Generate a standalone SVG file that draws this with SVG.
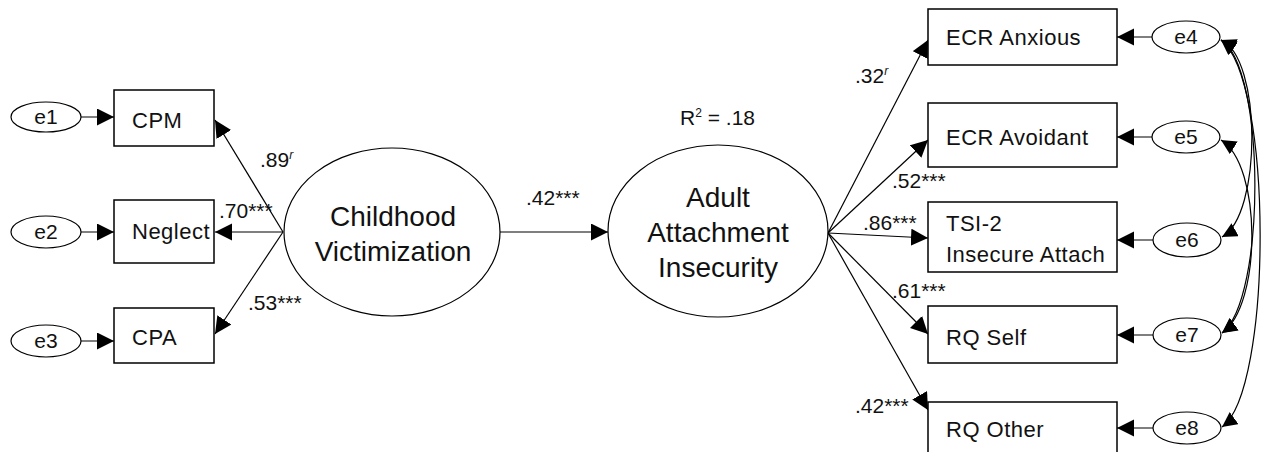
<svg xmlns="http://www.w3.org/2000/svg" width="1262" height="452" viewBox="0 0 1262 452">
<style>
.box{fill:#fff;stroke:#000;stroke-width:1.5}
.ell{fill:#fff;stroke:#000;stroke-width:1.2}
.lbl{font-family:"Liberation Sans",Arial,sans-serif;font-size:22px;fill:#111;letter-spacing:0.5px}
.big{font-family:"Liberation Sans",Arial,sans-serif;font-size:28px;fill:#111;text-anchor:middle}
.err{font-family:"Liberation Sans",Arial,sans-serif;font-size:21px;fill:#111;text-anchor:middle}
.coef{font-family:"Liberation Sans",Arial,sans-serif;font-size:21px;fill:#111}
.ln{fill:none;stroke:#000;stroke-width:1.2}
</style>
<defs>
<marker id="ah" markerUnits="userSpaceOnUse" markerWidth="20" markerHeight="20" refX="17" refY="8.5" orient="auto-start-reverse" viewBox="0 0 20 20">
<path d="M0,0 L17,8.5 L0,17 z" fill="#000"/>
</marker>
<marker id="ah2" markerUnits="userSpaceOnUse" markerWidth="18" markerHeight="18" refX="15" refY="7.5" orient="auto-start-reverse" viewBox="0 0 18 18">
<path d="M0,0 L15,7.5 L0,15 z" fill="#000"/>
</marker>
</defs>

<g id="connectors">
<line class="ln" x1="81" y1="117" x2="114" y2="117" marker-end="url(#ah)"/>
<line class="ln" x1="81" y1="232" x2="114" y2="232" marker-end="url(#ah)"/>
<line class="ln" x1="81" y1="341" x2="114" y2="341" marker-end="url(#ah)"/>
<line class="ln" x1="283" y1="232" x2="215" y2="120" marker-end="url(#ah)"/>
<line class="ln" x1="283" y1="232" x2="215" y2="232" marker-end="url(#ah)"/>
<line class="ln" x1="283" y1="232" x2="215" y2="334" marker-end="url(#ah)"/>
<line class="ln" x1="500" y1="232" x2="608" y2="232" marker-end="url(#ah)"/>
<line class="ln" x1="828" y1="233" x2="928" y2="40" marker-end="url(#ah)"/>
<line class="ln" x1="828" y1="233" x2="928" y2="140" marker-end="url(#ah)"/>
<line class="ln" x1="828" y1="233" x2="928" y2="238" marker-end="url(#ah)"/>
<line class="ln" x1="828" y1="233" x2="928" y2="334" marker-end="url(#ah)"/>
<line class="ln" x1="828" y1="233" x2="928" y2="410" marker-end="url(#ah)"/>
<line class="ln" x1="1152" y1="37" x2="1117" y2="37" marker-end="url(#ah)"/>
<line class="ln" x1="1152" y1="137" x2="1117" y2="137" marker-end="url(#ah)"/>
<line class="ln" x1="1153" y1="240" x2="1117" y2="240" marker-end="url(#ah)"/>
<line class="ln" x1="1153" y1="335" x2="1117" y2="335" marker-end="url(#ah)"/>
<line class="ln" x1="1153" y1="428" x2="1117" y2="428" marker-end="url(#ah)"/>
<path class="ln" d="M1221,40 C1262,58 1262,215 1222,237" marker-start="url(#ah2)" marker-end="url(#ah2)"/>
<path class="ln" d="M1221,40 C1266,68 1266,300 1222,333" marker-start="url(#ah2)" marker-end="url(#ah2)"/>
<path class="ln" d="M1221,40 C1273,80 1273,390 1222,427" marker-start="url(#ah2)" marker-end="url(#ah2)"/>
<path class="ln" d="M1221,140 C1262,165 1262,305 1222,333" marker-start="url(#ah2)" marker-end="url(#ah2)"/>
</g>

<g id="e1"><ellipse class="ell" cx="46" cy="117" rx="35" ry="15"/><text class="err" x="46" y="124">e1</text></g>
<g id="e2"><ellipse class="ell" cx="46" cy="232" rx="35" ry="16"/><text class="err" x="46" y="239">e2</text></g>
<g id="e3"><ellipse class="ell" cx="46" cy="341" rx="35" ry="16"/><text class="err" x="46" y="348">e3</text></g>

<g id="cpm"><rect class="box" x="114" y="90" width="100" height="56"/><text class="lbl" x="132" y="128">CPM</text></g>
<g id="neglect"><rect class="box" x="114" y="200" width="100" height="63"/><text class="lbl" x="132" y="239">Neglect</text></g>
<g id="cpa"><rect class="box" x="114" y="308" width="100" height="55"/><text class="lbl" x="132" y="345">CPA</text></g>

<g id="childhood"><ellipse class="ell" cx="392" cy="232" rx="108" ry="84"/>
<text class="big" x="393" y="226">Childhood</text><text class="big" x="393" y="261">Victimization</text></g>

<g id="adult"><ellipse class="ell" cx="718" cy="231" rx="110" ry="86"/>
<text class="big" x="718" y="207">Adult</text><text class="big" x="718" y="242">Attachment</text><text class="big" x="718" y="277">Insecurity</text></g>

<g id="ecr-anx"><rect class="box" x="928" y="9" width="189" height="56"/><text class="lbl" x="946" y="45">ECR Anxious</text></g>
<g id="ecr-avo"><rect class="box" x="928" y="103" width="189" height="64"/><text class="lbl" x="946" y="145">ECR Avoidant</text></g>
<g id="tsi"><rect class="box" x="928" y="202" width="189" height="70"/><text class="lbl" x="946" y="231">TSI-2</text><text class="lbl" x="946" y="262">Insecure Attach</text></g>
<g id="rq-self"><rect class="box" x="928" y="306" width="189" height="57"/><text class="lbl" x="946" y="345">RQ Self</text></g>
<g id="rq-other"><rect class="box" x="928" y="402" width="189" height="60"/><text class="lbl" x="946" y="437">RQ Other</text></g>

<g id="e4"><ellipse class="ell" cx="1186" cy="37" rx="34" ry="16"/><text class="err" x="1186" y="44">e4</text></g>
<g id="e5"><ellipse class="ell" cx="1186" cy="137" rx="34" ry="16"/><text class="err" x="1186" y="144">e5</text></g>
<g id="e6"><ellipse class="ell" cx="1187" cy="240" rx="34" ry="17"/><text class="err" x="1187" y="247">e6</text></g>
<g id="e7"><ellipse class="ell" cx="1187" cy="335" rx="34" ry="17"/><text class="err" x="1187" y="342">e7</text></g>
<g id="e8"><ellipse class="ell" cx="1187" cy="428" rx="34" ry="16"/><text class="err" x="1187" y="435">e8</text></g>

<g id="labels">
<text class="coef" x="260" y="167">.89<tspan font-size="12" font-style="italic" dy="-8">r</tspan></text>
<text class="coef" x="219" y="218">.70***</text>
<text class="coef" x="248" y="310">.53***</text>
<text class="coef" x="526" y="205" font-size="22">.42***</text>
<text class="coef" x="680" y="125">R<tspan font-size="12" dy="-8">2</tspan><tspan dy="8"> = .18</tspan></text>
<text class="coef" x="855" y="83">.32<tspan font-size="12" font-style="italic" dy="-8">r</tspan></text>
<text class="coef" x="892" y="188">.52***</text>
<text class="coef" x="863" y="230">.86***</text>
<text class="coef" x="892" y="298">.61***</text>
<text class="coef" x="855" y="413">.42***</text>
</g>
</svg>
